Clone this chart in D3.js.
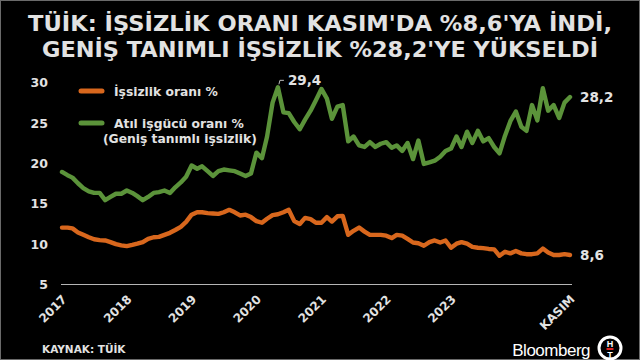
<!DOCTYPE html>
<html>
<head>
<meta charset="utf-8">
<script src="https://cdn.jsdelivr.net/npm/d3@7"></script>
<style>
  html, body { margin: 0; padding: 0; background: #000; }
  svg { display: block; }
</style>
</head>
<body>
<div id="chart"></div>
<script>
// ---- data ----
const titleLines = ["TÜİK: İŞSİZLİK ORANI KASIM'DA %8,6'YA İNDİ,", "GENİŞ TANIMLI İŞSİZLİK %28,2'YE YÜKSELDİ"];
const seriesNames = ["İşsizlik oranı %", "Atıl işgücü oranı %", "(Geniş tanımlı işsizlik)"];
const startMonth = "2017-01";
const endMonth = "2024-11";
// İşsizlik oranı % (Jan 2017 – Nov 2024, monthly)
const unemployment = [
  12.0, 12.0, 11.9, 11.4, 11.1, 10.8, 10.55, 10.45, 10.4, 10.2, 9.95, 9.8,
  9.7, 9.85, 10.0, 10.2, 10.6, 10.8, 10.85, 11.1, 11.35, 11.7, 12.1, 12.7,
  13.6, 13.9, 13.9, 13.8, 13.75, 13.7, 13.9, 14.2, 13.9, 13.5, 13.6, 13.3,
  12.8, 12.6, 13.1, 13.55, 13.65, 13.9, 14.2, 12.8, 12.45, 13.2, 13.05, 12.6,
  12.6, 13.3, 12.75, 13.4, 13.45, 11.1, 11.6, 12.0, 11.5, 11.1, 11.1, 11.1,
  11.0, 10.7, 11.1, 11.0, 10.6, 10.15, 10.05, 9.75, 10.2, 10.4, 10.15, 10.4,
  9.5, 10.0, 10.2, 10.0, 9.6, 9.5, 9.45, 9.35, 9.3, 8.5, 9.0, 8.8,
  9.1, 8.8, 8.7, 8.7, 8.8, 9.4, 8.9, 8.6, 8.6, 8.7, 8.6
];
// Atıl işgücü oranı % (geniş tanımlı işsizlik)
const broadUnemployment = [
  18.9, 18.5, 18.2, 17.5, 16.9, 16.5, 16.3, 16.3, 15.4, 15.8, 16.2, 16.2,
  16.6, 16.3, 15.9, 15.4, 15.8, 16.3, 16.4, 16.6, 16.3, 17.0, 17.6, 18.3,
  19.7, 19.3, 19.6, 19.0, 18.4, 19.0, 19.2, 19.1, 19.0, 18.7, 18.4, 18.7,
  21.3, 20.6, 23.3, 27.5, 29.4, 26.3, 26.2, 25.1, 24.2, 25.4, 26.5, 27.8,
  29.2, 28.0, 25.5, 27.0, 27.2, 22.7, 23.3, 22.2, 22.0, 22.6, 22.0, 22.4,
  22.6, 21.9, 22.2, 21.5, 22.5, 20.5, 22.8, 19.9, 20.1, 20.3, 20.8, 21.5,
  21.8, 23.3, 22.0, 23.9, 22.5, 24.0, 22.7, 23.1, 22.0, 21.2, 23.4, 25.2,
  26.4, 24.5, 24.0, 27.2, 25.3, 29.3, 26.5, 27.2, 25.6, 27.5, 28.2
];
const yTicks = [5, 10, 15, 20, 25, 30];
const xTickDates = ["2017-01", "2018-01", "2019-01", "2020-01", "2021-01", "2022-01", "2023-01", "2024-11"];
const xTickLabels = ["2017", "2018", "2019", "2020", "2021", "2022", "2023", "KASIM"];
const peakLabel = "29,4";
const lastBroadLabel = "28,2";
const lastUnempLabel = "8,6";
const sourceText = "KAYNAK: TÜİK";
const brandText = "Bloomberg";

// ---- setup ----
const W = 640, H = 360;
const parseM = d3.timeParse("%Y-%m");
const months = d3.timeMonth.range(parseM(startMonth), d3.timeMonth.offset(parseM(endMonth), 1));
const orange = "#d8671d", green = "#5b933a", textCol = "#e2e2e2";
const FONT = "'DejaVu Sans', Verdana, sans-serif";

const svg = d3.select("#chart").append("svg").attr("width", W).attr("height", H)
  .style("font-family", FONT);
svg.append("rect").attr("x", 0.5).attr("y", 0.5).attr("width", W - 1).attr("height", H - 1)
  .attr("fill", "#000").attr("stroke", "#6a6a6a").attr("stroke-width", 1);

// title
const titleY = [31, 57], titleLen = [584, 556];
svg.selectAll("text.title").data(titleLines).join("text").attr("class", "title")
  .attr("x", 320).attr("y", (d, i) => titleY[i])
  .attr("text-anchor", "middle").attr("font-size", 20.5).attr("font-weight", "bold")
  .attr("fill", textCol)
  .attr("textLength", (d, i) => titleLen[i]).attr("lengthAdjust", "spacingAndGlyphs")
  .text(d => d);

const x = d3.scaleTime().domain([months[0], months[months.length - 1]]).range([62, 570]);
const y = d3.scaleLinear().domain([5, 30]).range([284, 82.5]);

// y axis labels
const yAxis = d3.axisLeft(y).tickValues(yTicks).tickSize(0).tickPadding(0);
const gy = svg.append("g").attr("transform", "translate(48,0)").call(yAxis);
gy.select(".domain").remove();
gy.selectAll("text").attr("fill", textCol).attr("font-size", 12.5).attr("font-weight", "bold")
  .attr("font-family", FONT).attr("dy", "0.35em");

// x axis
const xAxis = d3.axisBottom(x).tickValues(xTickDates.map(parseM)).tickSize(0)
  .tickFormat((d, i) => xTickLabels[i]);
const gx = svg.append("g").attr("transform", `translate(0,${y(5)})`).call(xAxis);
gx.select(".domain").attr("stroke", "#b5b5b5").attr("stroke-width", 1.2)
  .attr("d", `M${x.range()[0] - 1},0.5H${x.range()[1] + 2}`);
gx.selectAll("text").attr("fill", textCol).attr("font-size", 12).attr("font-weight", "bold")
  .attr("font-family", FONT)
  .attr("text-anchor", "end").attr("dy", 0).attr("y", 0)
  .attr("transform", "translate(5,16) rotate(-45)");

// lines
const line = d3.line().x((d, i) => x(months[i])).y(d => y(d)).curve(d3.curveLinear);
svg.append("path").datum(broadUnemployment).attr("d", line)
  .attr("fill", "none").attr("stroke", green).attr("stroke-width", 4.4)
  .attr("stroke-linejoin", "round").attr("stroke-linecap", "round");
svg.append("path").datum(unemployment).attr("d", line)
  .attr("fill", "none").attr("stroke", orange).attr("stroke-width", 4.4)
  .attr("stroke-linejoin", "round").attr("stroke-linecap", "round");

// legend
const leg = svg.append("g");
leg.append("line").attr("x1", 81).attr("x2", 102).attr("y1", 91).attr("y2", 91)
  .attr("stroke", orange).attr("stroke-width", 5).attr("stroke-linecap", "round");
leg.append("line").attr("x1", 81).attr("x2", 102).attr("y1", 123).attr("y2", 123)
  .attr("stroke", green).attr("stroke-width", 5).attr("stroke-linecap", "round");
leg.append("text").attr("x", 114).attr("y", 96).text(seriesNames[0]);
leg.append("text").attr("x", 114).attr("y", 128).text(seriesNames[1]);
leg.append("text").attr("x", 103).attr("y", 143).text(seriesNames[2]);
leg.selectAll("text").attr("fill", textCol).attr("font-size", 12.3).attr("font-weight", "bold");

// annotations
const peakIdx = broadUnemployment.indexOf(d3.max(broadUnemployment));
const px = x(months[peakIdx]), py = y(broadUnemployment[peakIdx]);
svg.append("path").attr("d", `M${px + 1},${py - 3}L${px + 2},${py - 7}H${px + 6}`)
  .attr("fill", "none").attr("stroke", "#bbb").attr("stroke-width", 1);
svg.append("text").attr("x", px + 10).attr("y", py - 2).text(peakLabel);
const lastI = months.length - 1;
svg.append("text").attr("x", x(months[lastI]) + 10).attr("y", y(broadUnemployment[lastI]) + 5).text(lastBroadLabel);
svg.append("text").attr("x", x(months[lastI]) + 10).attr("y", y(unemployment[lastI]) + 5).text(lastUnempLabel);
svg.selectAll("text:not(.title)").filter(function () { return this.parentNode === svg.node(); })
  .attr("fill", textCol).attr("font-size", 13.5).attr("font-weight", "bold");

// footer
svg.append("text").attr("x", 42).attr("y", 353).text(sourceText)
  .attr("fill", textCol).attr("font-size", 10.5).attr("font-weight", "bold");
svg.append("text").attr("x", 590).attr("y", 356).attr("text-anchor", "end").text(brandText)
  .attr("fill", "#fff").attr("font-size", 17).attr("letter-spacing", -0.5)
  .attr("font-family", "'Liberation Sans', Arial, sans-serif");
// logo
const logo = svg.append("g").attr("transform", "translate(610,348)");
logo.append("circle").attr("r", 11).attr("fill", "#000").attr("stroke", "#fff").attr("stroke-width", 3);
logo.append("text").attr("x", 0).attr("y", -1.5).attr("text-anchor", "middle").text("H")
  .attr("fill", "#fff").attr("font-size", 9).attr("font-weight", "bold").attr("font-family", "'Liberation Sans', Arial, sans-serif");
logo.append("rect").attr("x", -3.5).attr("y", 0).attr("width", 7).attr("height", 2).attr("fill", "#d22");
logo.append("text").attr("x", 0).attr("y", 10).attr("text-anchor", "middle").text("T")
  .attr("fill", "#fff").attr("font-size", 9).attr("font-weight", "bold").attr("font-family", "'Liberation Sans', Arial, sans-serif");
</script>
</body>
</html>
